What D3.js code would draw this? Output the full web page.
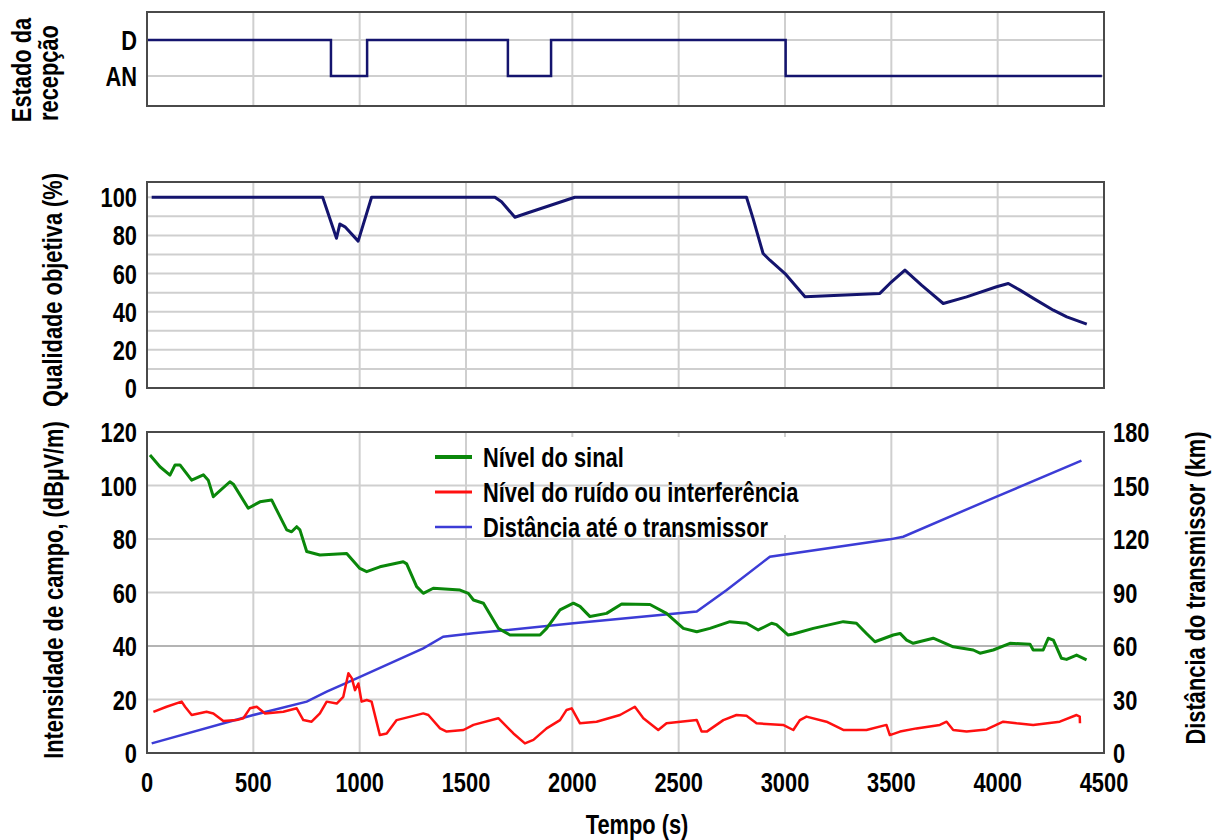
<!DOCTYPE html>
<html><head><meta charset="utf-8">
<script src="https://cdn.jsdelivr.net/npm/d3@7"></script>
<style>
body{margin:0;background:#fff;}
svg text{font-family:'Liberation Sans',Arial,sans-serif;font-weight:bold;fill:#000;}
</style></head>
<body><svg id="c" width="1218" height="840"></svg>
<script>
// ---------- data ----------
const xTicks = [0,500,1000,1500,2000,2500,3000,3500,4000,4500];
const stateLabels = ["AN","D"];
const stateTime = [0, 865, 1035, 1697, 1900, 3003, 4490];
const stateValue = ["D","AN","D","AN","D","AN","AN"];

const qualityTicks = [0,20,40,60,80,100];
const qualityTime = [22,826,891,907,931,993,1056,1636,1667,1730,1785,2012,2819,2850,2897,2929,3000,3094,3446,3493,3564,3642,3744,3854,3995,4050,4105,4168,4262,4325,4419];
const qualityValue = [100,100,78.5,86,84.5,77,100,100,97.6,89.5,91.6,100,100,88.8,70.5,67,60,47.8,49.6,54.8,61.8,53.9,44.3,47.8,53.1,54.8,51.3,47,40.8,37.3,33.5];

const fieldTicks = [0,20,40,60,80,100,120];
const distTicks = [0,30,60,90,120,150,180];

const signalTime = [14,61,108,132,155,210,265,288,312,390,406,476,531,586,610,657,680,704,719,751,813,939,1001,1033,1095,1205,1221,1268,1299,1346,1472,1511,1535,1582,1652,1707,1848,1879,1942,2005,2036,2083,2161,2232,2365,2443,2522,2585,2647,2741,2819,2874,2937,2960,3015,3039,3133,3274,3336,3383,3423,3509,3541,3572,3603,3697,3791,3885,3917,3979,4058,4152,4167,4214,4238,4262,4300,4324,4371,4418];
const signalLevel = [111.4,107,103.9,107.7,107.7,102,104,102,95.8,101.4,100.5,91.5,93.9,94.6,90.8,83.4,82.7,84.6,83.4,75.3,74,74.6,69,67.8,69.6,71.5,70.7,62.2,59.7,61.6,60.9,59.7,57.2,56,46.6,44.1,44.1,46.6,53.5,56,54.8,51,52.2,55.7,55.5,52.2,46.6,45.3,46.6,49.1,48.5,46,48.5,48,44.1,44.5,46.6,49.1,48.5,44.7,41.6,44.1,44.7,42.2,41,42.9,39.7,38.5,37.3,38.5,41,40.7,38.5,38.5,42.9,42.2,35.4,35,36.6,34.8];

const noiseTime = [30,92,163,179,210,280,312,359,421,453,484,516,555,641,704,735,774,813,845,892,923,947,963,978,994,1009,1033,1056,1095,1127,1174,1299,1323,1378,1409,1488,1535,1652,1723,1777,1817,1879,1942,1973,1997,2036,2114,2224,2294,2334,2404,2443,2585,2608,2632,2710,2772,2819,2866,2991,3039,3070,3101,3195,3274,3383,3477,3493,3541,3618,3728,3760,3791,3854,3948,4026,4089,4167,4292,4371,4386,4387];
const noiseLevel = [15.4,17.3,19.2,17.3,14.2,15.4,14.8,12,12.3,13,16.7,17.3,14.8,15.4,16.7,12.3,11.7,14.8,19.2,18.5,21,29.8,28,23.5,26,19.2,19.8,19.2,6.7,7.3,12.3,14.8,14.2,9.2,8,8.6,10.5,13,7.3,3.6,4.9,9.2,12.3,16.1,16.7,11.1,11.7,14.2,17.3,13,8.6,11.1,12.3,8,8,12.3,14.2,13.9,11.1,10.5,8.6,12.3,13.6,11.7,8.6,8.6,10.5,6.7,8,9.2,10.5,11.7,8.6,8,8.8,11.7,11.1,10.5,11.7,14.2,13.6,11.1];

const distTime = [22,500,751,845,986,1299,1393,1535,2005,2585,2726,2929,3493,3556,3995,4394];
const distKm = [5.4,21.3,28.8,34.4,41.9,58.7,65.2,67.1,72.7,79.3,91.4,110.1,119.8,121.3,143.8,163.9];

const legendNames = ["Nível do sinal","Nível do ruído ou interferência","Distância até o transmissor"];
const legendColors = ["#0a870a","#ff1010","#3c3cd6"];

// ---------- layout ----------
const L = 147, R = 1104;
const FS = 28, SX = 0.78;
const svg = d3.select("#c");
svg.append("rect").attr("width",1218).attr("height",840).attr("fill","#fff");

const x = d3.scaleLinear().domain([0,4500]).range([L,R]);
const yState = d3.scalePoint().domain(stateLabels).range([76,40]);
const yQual = d3.scaleLinear().domain([0,108]).range([388,182]);
const yField = d3.scaleLinear().domain([0,120]).range([753,432]);
const yDist = d3.scaleLinear().domain([0,180]).range([753,432]);

const GRID = "#cfcfcf", FRAME = "#4a4a4a";
function vgrid(g, y0, y1){
  g.selectAll(null).data(xTicks.slice(1,-1)).enter().append("line")
   .attr("x1",d=>x(d)).attr("x2",d=>x(d)).attr("y1",y0).attr("y2",y1)
   .attr("stroke",GRID).attr("stroke-width",2);
}
function hgrid(g, vals, sc){
  g.selectAll(null).data(vals).enter().append("line")
   .attr("x1",L).attr("x2",R).attr("y1",d=>sc(d)).attr("y2",d=>sc(d))
   .attr("stroke",GRID).attr("stroke-width",2);
}
function frame(y0,y1){
  svg.append("rect").attr("x",L).attr("y",y0).attr("width",R-L).attr("height",y1-y0)
   .attr("fill","none").attr("stroke",FRAME).attr("stroke-width",2);
}
function labels(vals, px, py, anchor){
  svg.append("g").selectAll("text").data(vals).enter().append("text")
   .attr("transform",d=>`translate(${px(d)},${py(d)}) scale(${SX},1)`)
   .attr("dy","0.36em").attr("text-anchor",anchor)
   .attr("font-size",FS).text(d=>d);
}
function vtitle(txt, cx, cy){
  svg.append("text").attr("transform",`translate(${cx},${cy}) rotate(-90) scale(${SX},1)`)
   .attr("text-anchor","middle").attr("dy","0.36em").attr("font-size",FS).text(txt);
}
function htext(txt, px, py, anchor){
  return svg.append("text").attr("transform",`translate(${px},${py}) scale(${SX},1)`)
   .attr("text-anchor",anchor).attr("dy","0.36em").attr("font-size",FS).text(txt);
}

// ---------- top panel ----------
const g1 = svg.append("g");
vgrid(g1, 12, 106);
hgrid(g1, stateLabels, yState);
const stateData = stateTime.map((t,i)=>({t, v: stateValue[i]}));
g1.append("path").datum(stateData)
  .attr("d", d3.line().x(d=>x(d.t)).y(d=>yState(d.v)).curve(d3.curveStepAfter))
  .attr("fill","none").attr("stroke","#14146e").attr("stroke-width",2.5);
frame(12,106);
labels(stateLabels, ()=>137, d=>yState(d), "end");

// ---------- middle panel ----------
const g2 = svg.append("g");
vgrid(g2, 182, 388);
hgrid(g2, d3.range(10,101,10), yQual);
const qualData = qualityTime.map((t,i)=>({t, v: qualityValue[i]}));
g2.append("path").datum(qualData)
  .attr("d", d3.line().x(d=>x(d.t)).y(d=>yQual(d.v)))
  .attr("fill","none").attr("stroke","#14146e").attr("stroke-width",3).attr("stroke-linejoin","round");
frame(182,388);
labels(qualityTicks, ()=>137, d=>yQual(d), "end");

// ---------- bottom panel ----------
const g3 = svg.append("g");
vgrid(g3, 432, 753);
g3.append("rect").attr("x",478).attr("y",437).attr("width",336).attr("height",98).attr("fill","#fff");
hgrid(g3, fieldTicks.slice(1,-1), yField);
g3.append("line").attr("x1",L).attr("x2",R).attr("y1",yField(40)).attr("y2",yField(40))
  .attr("stroke","#b4b4b4").attr("stroke-width",2);

const sigData = signalTime.map((t,i)=>({t, v: signalLevel[i]}));
const noiData = noiseTime.map((t,i)=>({t, v: noiseLevel[i]}));
const disData = distTime.map((t,i)=>({t, v: distKm[i]}));
const lineF = d3.line().x(d=>x(d.t)).y(d=>yField(d.v));
const lineD = d3.line().x(d=>x(d.t)).y(d=>yDist(d.v));
g3.append("path").datum(disData).attr("d",lineD).attr("fill","none")
  .attr("stroke",legendColors[2]).attr("stroke-width",2.5);
g3.append("path").datum(noiData).attr("d",lineF).attr("fill","none")
  .attr("stroke",legendColors[1]).attr("stroke-width",2.5).attr("stroke-linejoin","round");
g3.append("path").datum(sigData).attr("d",lineF).attr("fill","none")
  .attr("stroke",legendColors[0]).attr("stroke-width",3).attr("stroke-linejoin","round");
frame(432,753);
labels(fieldTicks, ()=>137, d=>yField(d), "end");
labels(distTicks, ()=>1113, d=>yDist(d), "start");
labels(xTicks, d=>x(d), ()=>782, "middle");

// legend
const lg = svg.append("g");
const legY = [457,492,527];
const legW = [4,3,2.5];
legendNames.forEach((n,i)=>{
  lg.append("line").attr("x1",435).attr("x2",472).attr("y1",legY[i]).attr("y2",legY[i])
    .attr("stroke",legendColors[i]).attr("stroke-width",legW[i]);
  htext(n, 483, legY[i], "start");
});

// titles
vtitle("Estado da", 21, 70);
vtitle("recepção", 48, 73);
vtitle("Qualidade objetiva (%)", 52, 290);
vtitle("Intensidade de campo, (dBµV/m)", 53, 590);
vtitle("Distância do transmissor (km)", 1195, 588);
htext("Tempo (s)", 637, 824, "middle");
</script></body></html>
